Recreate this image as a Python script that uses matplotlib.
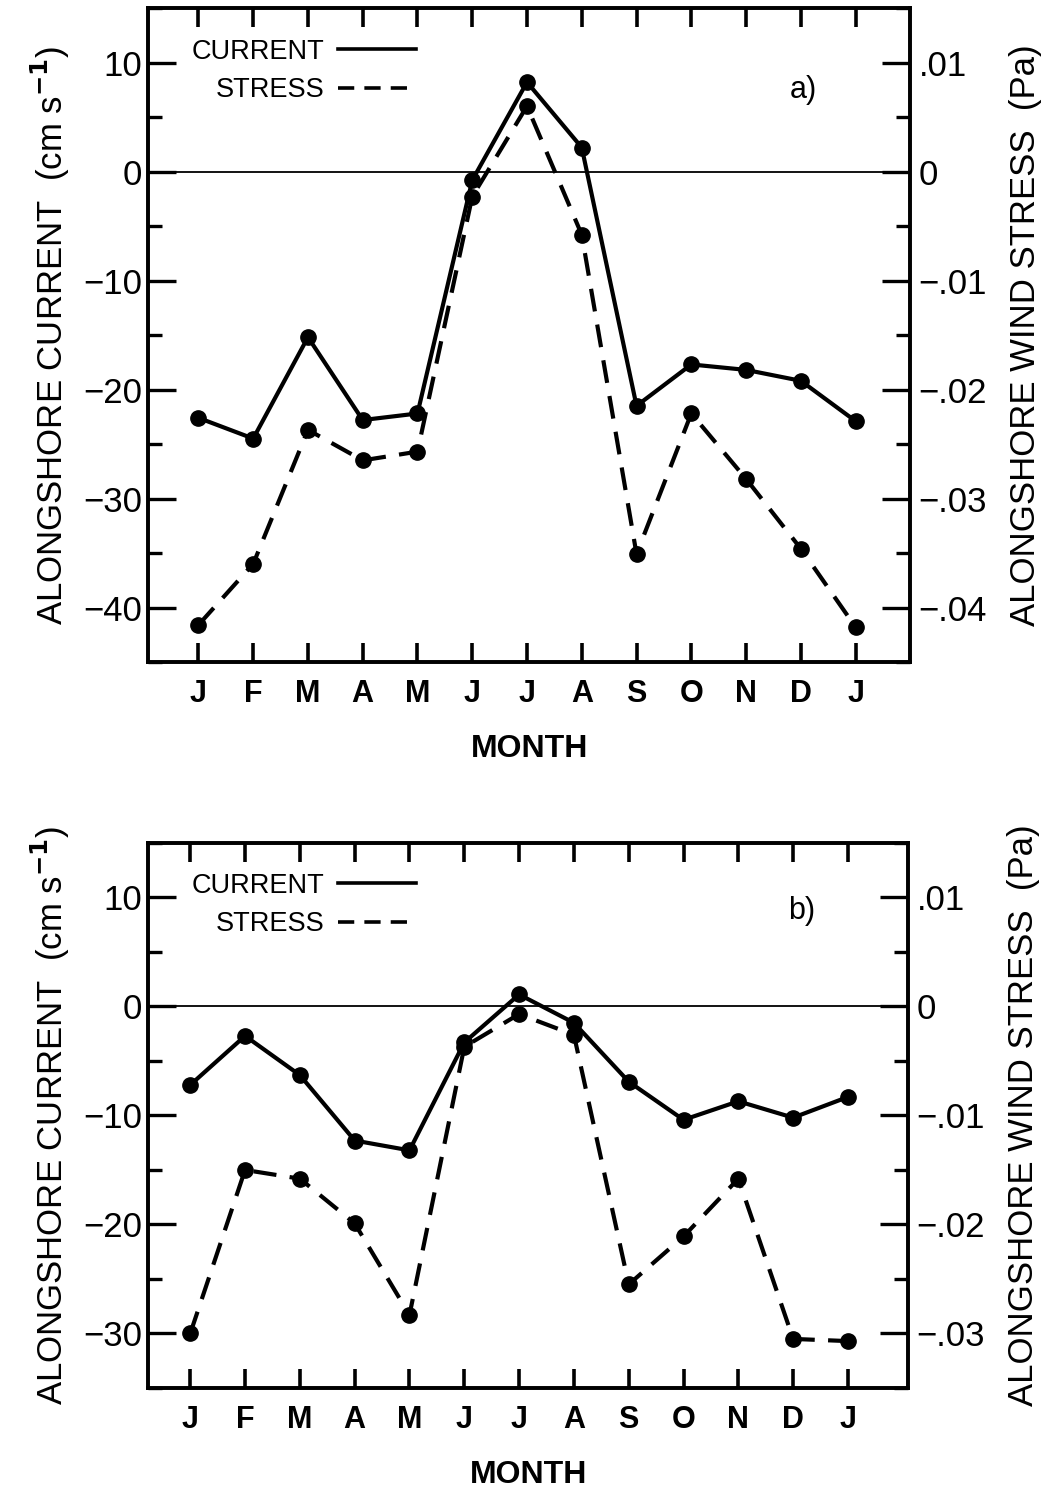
import matplotlib
matplotlib.use("Agg")
import matplotlib.pyplot as plt
from matplotlib.lines import Line2D
from matplotlib.ticker import MultipleLocator, FuncFormatter

plt.rcParams['font.family'] = ['Liberation Sans', 'DejaVu Sans']

months = ['J', 'F', 'M', 'A', 'M', 'J', 'J', 'A', 'S', 'O', 'N', 'D', 'J']

# Panel a
current_a = [-22.6, -24.5, -15.2, -22.8, -22.2, -0.8, 8.2, 2.2, -21.5, -17.7, -18.2, -19.2, -22.9]
stress_a = [-0.0416, -0.0360, -0.0237, -0.0265, -0.0257, -0.0023, 0.0060, -0.0058,
            -0.0351, -0.0222, -0.0282, -0.0346, -0.0418]

# Panel b
current_b = [-7.2, -2.7, -6.3, -12.3, -13.2, -3.3, 1.1, -1.5, -6.9, -10.4, -8.7, -10.2, -8.3]
stress_b = [-0.0300, -0.0150, -0.0158, -0.0199, -0.0283, -0.0037, -0.0007, -0.0026,
            -0.0255, -0.0211, -0.0158, -0.0305, -0.0307]

fig = plt.figure(figsize=(10.5, 14.87), dpi=100)

def pa_fmt(v, pos):
    if abs(v) < 1e-9:
        return '0'
    s = f"{abs(v):.2f}".lstrip('0')
    return ('\u2212' if v < 0 else '') + s

def cur_fmt(v, pos):
    v = int(round(v))
    return ('\u2212' + str(-v)) if v < 0 else str(v)

def panel(rect, cur, st, ylim, xlim, label):
    ax = fig.add_axes(rect)
    x = list(range(len(months)))
    ax2 = ax.twinx()
    ax.plot(x, cur, '-', color='black', lw=3.0, marker='o', ms=11, zorder=3)
    ax2.plot(x, st, color='black', lw=3.0, marker='o', ms=11, dashes=(5.5, 3.2), zorder=3)
    ax.axhline(0, color='black', lw=1.3)
    ax.set_xlim(*xlim)
    ax.set_ylim(*ylim)
    ax2.set_ylim(ylim[0] / 1000, ylim[1] / 1000)
    ax.set_xticks(x)
    ax.set_xticklabels(months, fontsize=22, fontweight='bold')
    ax.yaxis.set_major_locator(MultipleLocator(10))
    ax.yaxis.set_minor_locator(MultipleLocator(5))
    ax.yaxis.set_major_formatter(FuncFormatter(cur_fmt))
    ax2.yaxis.set_major_locator(MultipleLocator(0.01))
    ax2.yaxis.set_minor_locator(MultipleLocator(0.005))
    ax2.yaxis.set_major_formatter(FuncFormatter(pa_fmt))
    ax.tick_params(axis='x', which='major', direction='in', length=14, width=2.6,
                   top=True, bottom=True, pad=12)
    ax.tick_params(axis='y', which='major', direction='in', length=20, width=2.4,
                   labelsize=25, pad=4)
    ax.tick_params(axis='y', which='minor', direction='in', length=10, width=2.4)
    ax2.tick_params(axis='y', which='major', direction='in', length=20, width=2.4,
                    labelsize=25, pad=6)
    ax2.tick_params(axis='y', which='minor', direction='in', length=10, width=2.4)
    for a in (ax, ax2):
        for sp in a.spines.values():
            sp.set_linewidth(2.6)
    ax.set_xlabel('MONTH', fontsize=23, fontweight='bold', labelpad=18)
    ax.set_ylabel('ALONGSHORE CURRENT  (cm s$^{\\mathbf{-1}}$)', fontsize=25, labelpad=8)
    ax2.set_ylabel('ALONGSHORE WIND STRESS  (Pa)', fontsize=25, labelpad=16)
    ax.text(0.86, 0.875, label, transform=ax.transAxes, fontsize=22,
            ha='center', va='center')
    h1 = Line2D([], [], color='black', lw=2.6)
    h2 = Line2D([], [], color='black', lw=2.6, dashes=(4.5, 2.8))
    ax.legend([h1, h2], ['CURRENT', 'STRESS'], loc='upper left', frameon=False,
              markerfirst=False, fontsize=19.5, handlelength=2.9, handletextpad=0.5,
              labelspacing=0.45, bbox_to_anchor=(0.025, 0.99))
    return ax

panel([0.141, 0.5548, 0.726, 0.4398], current_a, stress_a, (-45, 15), (-0.92, 13.0), 'a)')
panel([0.141, 0.0666, 0.724, 0.3665], current_b, stress_b, (-35, 15), (-0.77, 13.1), 'b)')

fig.savefig('out.png', dpi=100)
